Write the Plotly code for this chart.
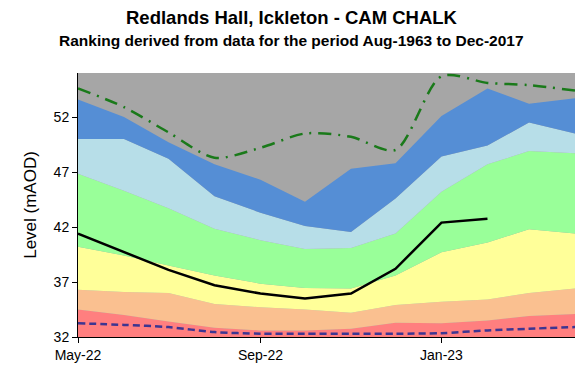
import plotly.graph_objects as go

# Monthly groundwater levels, Redlands Hall (Ickleton), Cam Chalk
months = ["2022-05-01", "2022-06-01", "2022-07-01", "2022-08-01", "2022-09-01", "2022-10-01",
          "2022-11-01", "2022-12-01", "2023-01-01", "2023-02-01", "2023-03-01", "2023-04-01"]

# Upper edge of each ranking band (mAOD)
band_red = [34.5, 34.0, 33.4, 32.85, 32.6, 32.6, 32.75, 33.3, 33.25, 33.5, 33.9, 34.1]
band_orange = [36.3, 36.1, 36.0, 35.0, 34.7, 34.5, 34.2, 34.9, 35.2, 35.4, 36.0, 36.4]
band_yellow = [40.2, 39.4, 38.5, 37.6, 36.85, 36.45, 36.4, 37.6, 39.7, 40.6, 41.8, 41.4]
band_green = [46.85, 45.3, 43.7, 41.85, 40.8, 40.0, 40.1, 41.4, 45.2, 47.7, 48.9, 48.7]
band_lightblue = [50.0, 50.0, 48.2, 44.8, 43.3, 42.1, 41.55, 44.6, 48.4, 49.4, 51.5, 50.5]
band_blue = [53.6, 52.0, 49.7, 47.7, 46.3, 44.3, 47.3, 47.8, 52.1, 54.6, 53.2, 53.7]

# Historical extremes and the current level
level_max = [54.6, 52.9, 50.6, 48.3, 49.2, 50.5, 50.2, 49.0, 55.7, 55.1, 54.9, 54.4]
level_min = [33.25, 33.1, 32.9, 32.45, 32.3, 32.3, 32.3, 32.3, 32.35, 32.6, 32.75, 32.9]
level_months = months[:10]
level = [41.4, 39.7, 38.1, 36.7, 35.95, 35.5, 35.95, 38.2, 42.4, 42.75]

y_ticks = [32, 37, 42, 47, 52]
x_ticks = ["2022-05-01", "2022-09-01", "2023-01-01"]

title_main = "Redlands Hall, Ickleton - CAM CHALK"
title_sub = "Ranking derived from data for the period Aug-1963 to Dec-2017"

bands = [
    (band_red, "#FF7F7F"),
    (band_orange, "#FAC090"),
    (band_yellow, "#FFFF99"),
    (band_green, "#99FF99"),
    (band_lightblue, "#B7DEE8"),
    (band_blue, "#558ED5"),
]

fig = go.Figure()
for i, (vals, col) in enumerate(bands):
    fig.add_trace(go.Scatter(
        x=months, y=vals, mode="lines", line=dict(width=0, color=col),
        fill="tozeroy" if i == 0 else "tonexty", fillcolor=col,
        hoverinfo="skip", showlegend=False,
    ))

fig.add_trace(go.Scatter(
    x=months, y=level_max, mode="lines",
    line=dict(color="#1A7A1A", width=2.5, dash="13px,7px,2px,7px", shape="spline", smoothing=0.8),
    showlegend=False,
))
fig.add_trace(go.Scatter(
    x=months, y=level_min, mode="lines",
    line=dict(color="#3D3591", width=2.5, dash="7px,4px", shape="spline", smoothing=0.8),
    showlegend=False,
))
fig.add_trace(go.Scatter(
    x=level_months, y=level, mode="lines",
    line=dict(color="black", width=2.5),
    showlegend=False,
))

font = "Arial, Liberation Sans, sans-serif"

# Two-line heading placed above the plot area
fig.add_annotation(
    text=f"<b>{title_main}</b>", xref="paper", yref="paper",
    x=0.43, y=1.212, xanchor="center", yanchor="middle", showarrow=False,
    font=dict(size=18.5, family=font, color="black"),
)
fig.add_annotation(
    text=f"<b>{title_sub}</b>", xref="paper", yref="paper",
    x=0.43, y=1.125, xanchor="center", yanchor="middle", showarrow=False,
    font=dict(size=15.5, family=font, color="black"),
)

fig.update_layout(
    width=576, height=368,
    margin=dict(l=78, r=1, t=73, b=31),
    paper_bgcolor="white",
    plot_bgcolor="#A6A6A6",
    font=dict(family=font, color="black"),
    xaxis=dict(
        range=[months[0], months[-1]],
        tickvals=x_ticks, tickformat="%b-%y",
        showgrid=False, zeroline=False,
        showline=True, linecolor="black", linewidth=1,
        ticks="outside", ticklen=5, tickcolor="black",
        tickfont=dict(size=14, family=font),
    ),
    yaxis=dict(
        range=[32, 56],
        tickvals=y_ticks,
        showgrid=False, zeroline=False,
        showline=True, linecolor="black", linewidth=1,
        ticks="outside", ticklen=5, tickcolor="black",
        tickfont=dict(size=14, family=font),
        title=dict(text="Level (mAOD)", font=dict(size=17, family=font), standoff=12),
    ),
)

fig.write_html("out.html")
